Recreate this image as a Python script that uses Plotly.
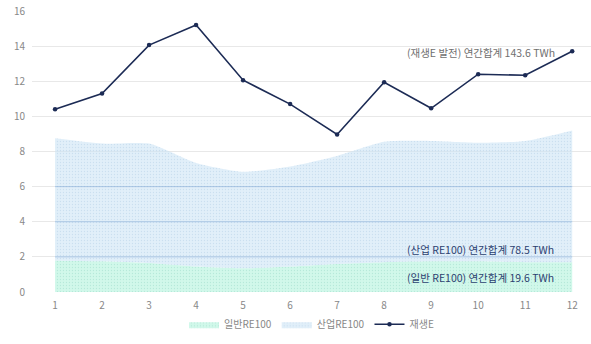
import plotly.graph_objects as go

months = [1, 2, 3, 4, 5, 6, 7, 8, 9, 10, 11, 12]
general_re100 = [1.8, 1.75, 1.65, 1.45, 1.35, 1.45, 1.6, 1.7, 1.75, 1.75, 1.7, 1.7]
industry_re100 = [6.95, 6.7, 6.8, 5.9, 5.5, 5.7, 6.15, 6.85, 6.85, 6.75, 6.9, 7.5]
renewable = [10.4, 11.3, 14.06, 15.2, 12.06, 10.7, 8.97, 11.94, 10.46, 12.4, 12.34, 13.71]
labels = ["(재생E 발전) 연간합계 143.6 TWh", "(산업 RE100) 연간합계 78.5 TWh", "(일반 RE100) 연간합계 19.6 TWh"]
label_y = [13.64, 2.44, 0.84]
y_ticks = [0, 2, 4, 6, 8, 10, 12, 14, 16]

font = "Noto Sans CJK KR"
fig = go.Figure()
fig.add_trace(go.Scatter(
    x=months, y=general_re100, name="일반RE100", stackgroup="a",
    mode="lines", line=dict(width=0, shape="spline", smoothing=0.6),
    fillcolor="rgba(150,235,205,0.5)",
    fillpattern=dict(shape=".", size=3, solidity=0.15, fgcolor="rgba(120,200,180,0.6)", bgcolor="rgba(190,245,225,0.7)"),
))
fig.add_trace(go.Scatter(
    x=months, y=industry_re100, name="산업RE100", stackgroup="a",
    mode="lines", line=dict(width=0, shape="spline", smoothing=0.6),
    fillcolor="rgba(190,215,240,0.5)",
    fillpattern=dict(shape=".", size=3, solidity=0.15, fgcolor="rgba(150,185,215,0.6)", bgcolor="rgba(205,228,245,0.6)"),
))
fig.add_trace(go.Scatter(
    x=months, y=renewable, name="재생E", mode="lines+markers",
    line=dict(color="#1c2b55", width=1.6), marker=dict(size=4.5, color="#1c2b55"),
))

# gridlines seen through the stacked area (tinted)
area_floor = min(g + i for g, i in zip(general_re100, industry_re100))
for yv in y_ticks:
    if 0 < yv < area_floor:
        fig.add_shape(type="line", xref="x", yref="y", x0=months[0], x1=months[-1], y0=yv, y1=yv,
                      line=dict(color="rgba(100,150,210,0.4)", width=1), layer="above")

colors = ["#707070", "#2c4170", "#2c4170"]
for t, yv, c in zip(labels, label_y, colors):
    fig.add_annotation(x=10.05, y=yv, xref="x", yref="y", text=t, showarrow=False,
                       xanchor="center", yanchor="middle", font=dict(size=10.5, color=c, family=font))

fig.update_layout(
    width=591, height=344,
    margin=dict(l=32, r=0, t=11, b=52),
    paper_bgcolor="white", plot_bgcolor="white",
    font=dict(family=font, size=10, color="#888888"),
    showlegend=True,
    legend=dict(orientation="h", x=0.5, xanchor="center", y=-0.115, yanchor="middle",
                font=dict(size=10, color="#888888"), itemwidth=30, traceorder="normal"),
    xaxis=dict(range=[0.51, 12.4], tickvals=months, showgrid=False, zeroline=False,
               showline=False, ticks="", ticklabelstandoff=6, tickfont=dict(size=10, color="#888888")),
    yaxis=dict(range=[0, 16], tickvals=y_ticks, showgrid=True, gridcolor="#e8e8e8", gridwidth=1,
               zeroline=False, showline=False, ticks="", ticklabelstandoff=6,
               tickfont=dict(size=10, color="#888888")),
)
fig.write_html("out.html")
